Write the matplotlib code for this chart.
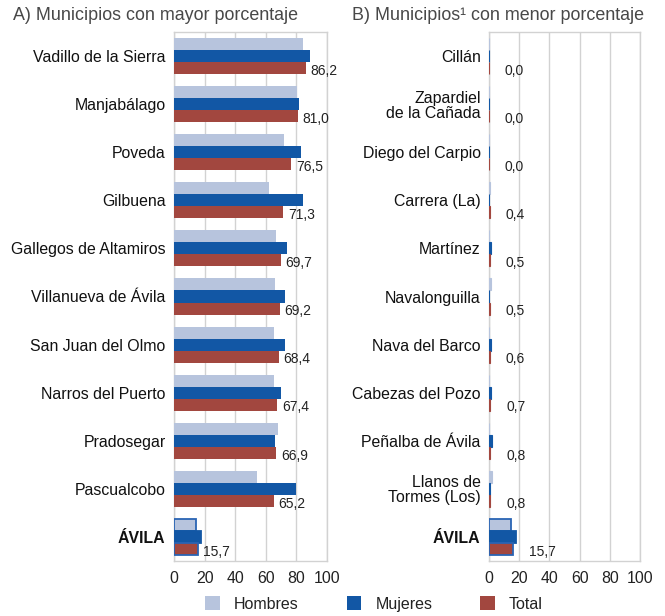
"""Municipios con mayor y menor porcentaje, barras horizontales por sexo."""

import matplotlib
matplotlib.use("Agg")
from matplotlib import pyplot as plt
from matplotlib.patches import Patch

plt.rcParams["font.family"] = ["Liberation Sans", "DejaVu Sans"]

# A) mayor porcentaje
names_a = ["Vadillo de la Sierra", "Manjabálago", "Poveda", "Gilbuena",
           "Gallegos de Altamiros", "Villanueva de Ávila", "San Juan del Olmo",
           "Narros del Puerto", "Pradosegar", "Pascualcobo", "ÁVILA"]
hombres_a = [84.1, 80.2, 71.9, 62.1, 66.7, 66.0, 65.4, 65.4, 68.0, 54.0, 14.4]
mujeres_a = [88.9, 81.7, 82.8, 84.5, 73.6, 72.5, 72.5, 70.0, 66.0, 80.0, 17.9]
total_a = [86.2, 81.0, 76.5, 71.3, 69.7, 69.2, 68.4, 67.4, 66.9, 65.2, 15.7]

# B) menor porcentaje
names_b = ["Cillán", "Zapardiel\nde la Cañada", "Diego del Carpio", "Carrera (La)",
           "Martínez", "Navalonguilla", "Nava del Barco", "Cabezas del Pozo",
           "Peñalba de Ávila", "Llanos de\nTormes (Los)", "ÁVILA"]
hombres_b = [0.0, 0.0, 0.0, 0.8, 0.2, 1.0, 0.2, 0.3, 0.0, 2.0, 14.4]
mujeres_b = [0.0, 0.0, 0.0, 0.3, 1.5, 0.3, 1.5, 1.5, 2.0, 0.5, 17.7]
total_b = [0.0, 0.0, 0.0, 0.4, 0.5, 0.5, 0.6, 0.7, 0.8, 0.8, 15.7]

ticks = [0, 20, 40, 60, 80, 100]

c_h = "#b7c4dd"
c_m = "#1257a5"
c_t = "#a2473f"
c_edge = "#2a64b4"
c_grid = "#d2d2d2"


def draw_panel(ax, names, hom, muj, tot, label_dx, thin_edges):
    n = len(names)
    pos = list(range(n))
    h = 0.25
    lw = 0.8 if thin_edges else 0
    for i in pos:
        is_total = names[i] == "ÁVILA"
        ec_h = c_edge if is_total else c_h
        ec_t = c_edge if is_total else c_t
        elw = 1.3 if is_total else lw
        ax.barh(i - h, hom[i], height=h, color=c_h, edgecolor=ec_h, linewidth=elw, zorder=3)
        ax.barh(i, muj[i], height=h, color=c_m, edgecolor=c_m, linewidth=elw if is_total else lw, zorder=3)
        ax.barh(i + h, tot[i], height=h, color=c_t, edgecolor=ec_t, linewidth=elw, zorder=3)
        ax.annotate(f"{tot[i]:.1f}".replace(".", ","), (tot[i], i + h),
                    xytext=(label_dx, -2), textcoords="offset points",
                    va="center", ha="left", fontsize=10, color="#222222", zorder=4)
    ax.set_ylim(n - 0.5, -0.5)
    ax.set_xlim(0, 100)
    ax.set_xticks(ticks)
    ax.set_yticks(pos)
    ax.set_yticklabels(names, fontsize=11.4, color="#111111", linespacing=1.0)
    for lab in ax.get_yticklabels():
        if lab.get_text() == "ÁVILA":
            lab.set_fontweight("bold")
    ax.tick_params(axis="y", length=0, pad=6)
    ax.tick_params(axis="x", length=0, pad=7, labelsize=11.4, labelcolor="#222222")
    ax.grid(axis="x", color=c_grid, linewidth=1, zorder=0)
    for s in ax.spines.values():
        s.set_color(c_grid)
        s.set_linewidth(1)


fig = plt.figure(figsize=(6.65, 6.16), dpi=100)
ax_a = fig.add_axes([174 / 665, 1 - 561 / 616, 153 / 665, 529 / 616])
ax_b = fig.add_axes([489 / 665, 1 - 561 / 616, 151 / 665, 529 / 616])

draw_panel(ax_a, names_a, hombres_a, mujeres_a, total_a, 3.5, False)
draw_panel(ax_b, names_b, hombres_b, mujeres_b, total_b, 11.5, True)

fig.text(13 / 665, 1 - 16 / 616, "A) Municipios con mayor porcentaje",
         fontsize=12.9, color="#484848", va="center", ha="left")
fig.text(352 / 665, 1 - 16 / 616, "B) Municipios¹ con menor porcentaje",
         fontsize=12.9, color="#484848", va="center", ha="left")

handles = [Patch(facecolor=c_h, edgecolor="none"),
           Patch(facecolor=c_m, edgecolor="none"),
           Patch(facecolor=c_t, edgecolor="none")]
fig.legend(handles, ["Hombres", "Mujeres", "Total"], loc="center",
           bbox_to_anchor=(374 / 665, 1 - 604 / 616), ncol=3, frameon=False,
           fontsize=11.5, handlelength=0.9, handleheight=0.9, handletextpad=0.9,
           columnspacing=3.0, labelcolor="#222222")

fig.savefig("out.png", dpi=100)
